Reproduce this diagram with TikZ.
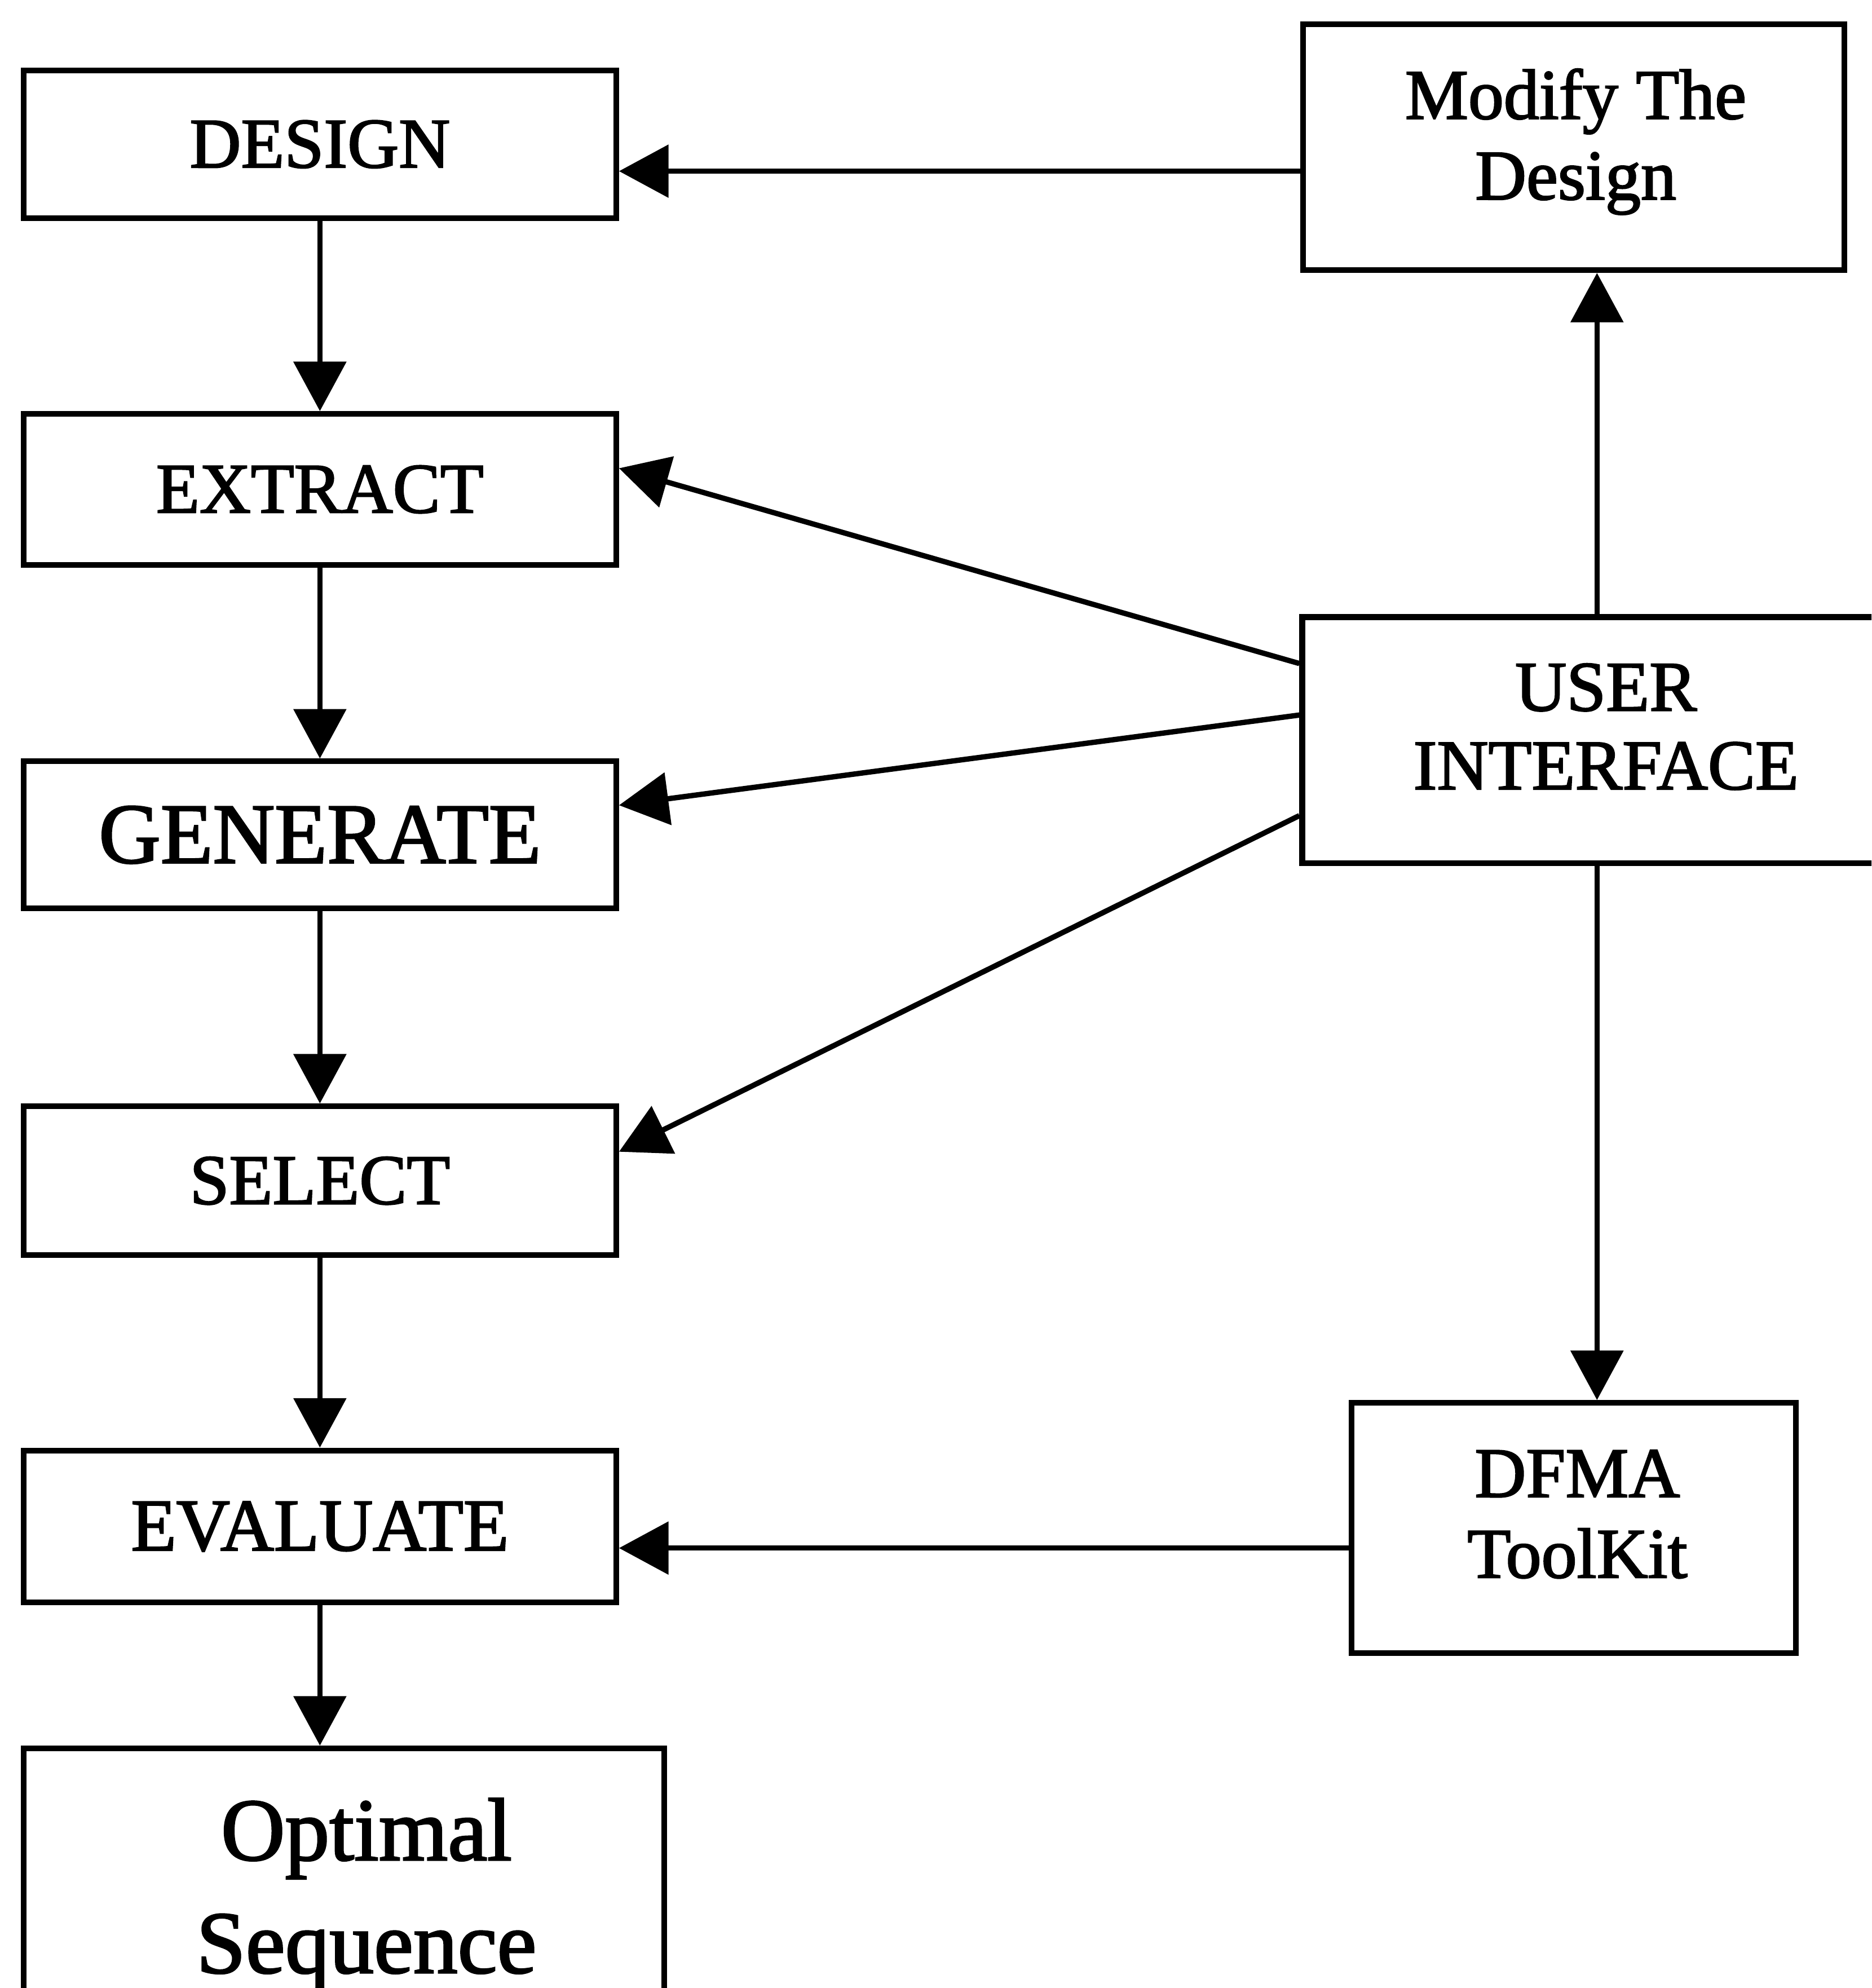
\documentclass[tikz,border=0pt]{standalone}
\usepackage{fontspec}
\setmainfont{Liberation Serif}[FakeBold=2]
\usetikzlibrary{arrows.meta,calc}
\begin{document}
\begin{tikzpicture}[x=1pt,y=1pt,
  box/.style={draw=black, line width=4.5pt, fill=white, inner sep=0pt},
  lbl/.style={inner sep=0pt, align=center, text=black},
  big/.style={font=\fontsize{56}{62}\selectfont},
  arr/.style={line width=4.2pt, -{Triangle[length=39pt,width=41pt]}},
]
\useasboundingbox (0,0) rectangle (1476,-1568);
\clip (0,0) rectangle (1476,-1568);
\fill[white] (0,0) rectangle (1476,-1568);

% process chain on the left
\node[box, big, minimum width=467.3pt, minimum height=116.4pt] (design) at (252.3,-113.8) {DESIGN};
\node[box, big, minimum width=467.3pt, minimum height=119pt] (extract) at (252.3,-386) {EXTRACT};
\node[box, font=\fontsize{67.5}{72}\selectfont, minimum width=467.3pt, minimum height=116pt] (generate) at (252.3,-658.5) {GENERATE};
\node[box, big, minimum width=467.3pt, minimum height=117.4pt] (select) at (252.3,-931.3) {SELECT};
\node[box, font=\fontsize{58.5}{64}\selectfont, minimum width=467.3pt, minimum height=120pt] (evaluate) at (252.3,-1204) {EVALUATE};
\node[box, minimum width=505.3pt, minimum height=250pt] (opt) at (271.35,-1504) {};
\node[lbl, font=\fontsize{70}{89}\selectfont] (optl) at (289,-1494.7) {Optimal\\Sequence};

% tools on the right
\node[box, minimum width=426.6pt, minimum height=194pt] (modify) at (1241.1,-116) {};
\node[lbl, font=\fontsize{56}{63.6}\selectfont] (modifyl) at (1242.7,-111.8) {Modify The\\Design};
\node[box, minimum width=478pt, minimum height=194.3pt] (ui) at (1266,-583.85) {};
\node[lbl, big] (uil) at (1266.6,-573.2) {USER\\INTERFACE};
\node[box, minimum width=350.4pt, minimum height=197.5pt] (dfma) at (1241.2,-1205.25) {};
\node[lbl, font=\fontsize{56}{63.6}\selectfont] (dfmal) at (1244,-1194.3) {DFMA\\ToolKit};

% routing guides
\coordinate (spine) at (1259.5,0);
\coordinate (toprow) at (0,-135);
\coordinate (lowrow) at (0,-1221);

% connectors
\draw[arr] (design.south) -- (extract.north);
\draw[arr] (extract.south) -- (generate.north);
\draw[arr] (generate.south) -- (select.north);
\draw[arr] (select.south) -- (evaluate.north);
\draw[arr] (evaluate.south) -- (evaluate.south |- opt.north);
\draw[arr] (modify.west |- toprow) -- (design.east |- toprow);
\draw[arr] (ui.north -| spine) -- (modify.south -| spine);
\draw[arr] (ui.south -| spine) -- (dfma.north -| spine);
\draw[arr] (dfma.west |- lowrow) -- (evaluate.east |- lowrow);
\draw[arr] ($(ui.north west)!0.1956!(ui.south west)$) -- ($(extract.north east)!0.365!(extract.south east)$);
\draw[arr] ($(ui.north west)!0.40!(ui.south west)$) -- ($(generate.north east)!0.306!(generate.south east)$);
\draw[arr] ($(ui.north west)!0.799!(ui.south west)$) -- ($(select.north east)!0.312!(select.south east)$);
\end{tikzpicture}
\end{document}
